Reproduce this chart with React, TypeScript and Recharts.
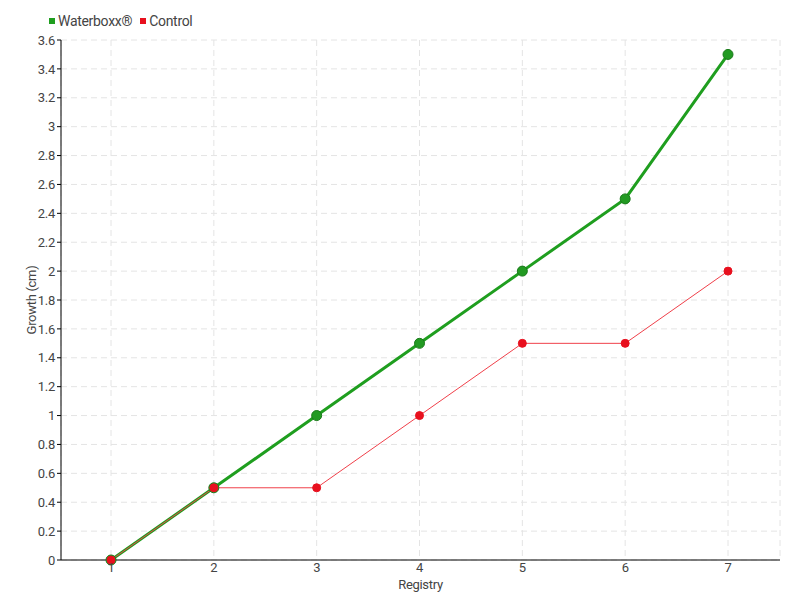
import React from 'react';
import { LineChart, Line, XAxis, YAxis, CartesianGrid, Label } from 'recharts';

const registry = ['1', '2', '3', '4', '5', '6', '7'];
const waterboxx = [0, 0.5, 1.0, 1.5, 2.0, 2.5, 3.5];
const control = [0, 0.5, 0.5, 1.0, 1.5, 1.5, 2.0];
const yTicks = [0, 0.2, 0.4, 0.6, 0.8, 1, 1.2, 1.4, 1.6, 1.8, 2, 2.2, 2.4, 2.6, 2.8, 3, 3.2, 3.4, 3.6];
const seriesNames = ['Waterboxx®', 'Control'];
const seriesColors = ['#1f9e1f', '#e8101e'];

const data = registry.map((r, i) => ({ registry: r, waterboxx: waterboxx[i], control: control[i] }));

const FONT = 'Roboto, sans-serif';
const textStyle: any = { fontFamily: FONT, fontSize: 13, fill: '#444', letterSpacing: -0.3 };

export default function App() {
  return (
    <div style={{ position: 'absolute', left: 0, top: 0, width: 800, height: 600, background: '#fff' }}>
      <div
        style={{
          position: 'absolute',
          left: 49,
          top: 13,
          display: 'flex',
          fontFamily: FONT,
          fontSize: 14,
          letterSpacing: -0.3,
          color: '#444',
          lineHeight: '16px',
          zIndex: 2,
        }}
      >
        {seriesNames.map((n, i) => (
          <div key={n} style={{ display: 'flex', alignItems: 'center', marginRight: 8 }}>
            <span style={{ display: 'inline-block', width: 6, height: 6, background: seriesColors[i], marginRight: 3 }} />
            <span>{n}</span>
          </div>
        ))}
      </div>
      <LineChart width={800} height={600} data={data} margin={{ top: 40, right: 20, bottom: 0, left: 0 }}>
        <CartesianGrid stroke="#e4e4e4" strokeDasharray="6 4" />
        <XAxis
          dataKey="registry"
          height={40}
          padding={{ left: 50, right: 52 }}
          axisLine={{ stroke: '#000' }}
          tickLine={false}
          tickSize={0}
          tickMargin={3}
          tick={textStyle}
        >
          <Label value="Registry" position="center" dy={4} style={textStyle} />
        </XAxis>
        <YAxis
          width={61}
          domain={[0, 3.6]}
          ticks={yTicks}
          interval={0}
          axisLine={{ stroke: '#000' }}
          tickLine={{ stroke: '#000' }}
          tickSize={4}
          tickMargin={2}
          tick={textStyle}
        >
          <Label value="Growth (cm)" angle={-90} position="center" dx={1} style={{ ...textStyle, textAnchor: 'middle' }} />
        </YAxis>
        <Line
          type="linear"
          dataKey="waterboxx"
          name={seriesNames[0]}
          stroke="#1f9e1f"
          strokeWidth={3}
          dot={{ r: 5, fill: '#229a22', stroke: '#1a7a1a', strokeWidth: 1 }}
          isAnimationActive={false}
        />
        <Line
          type="linear"
          dataKey="control"
          name={seriesNames[1]}
          stroke="#f0404a"
          strokeWidth={1}
          dot={{ r: 4, fill: '#e8101e', stroke: '#e8101e', strokeWidth: 1 }}
          isAnimationActive={false}
        />
      </LineChart>
    </div>
  );
}
